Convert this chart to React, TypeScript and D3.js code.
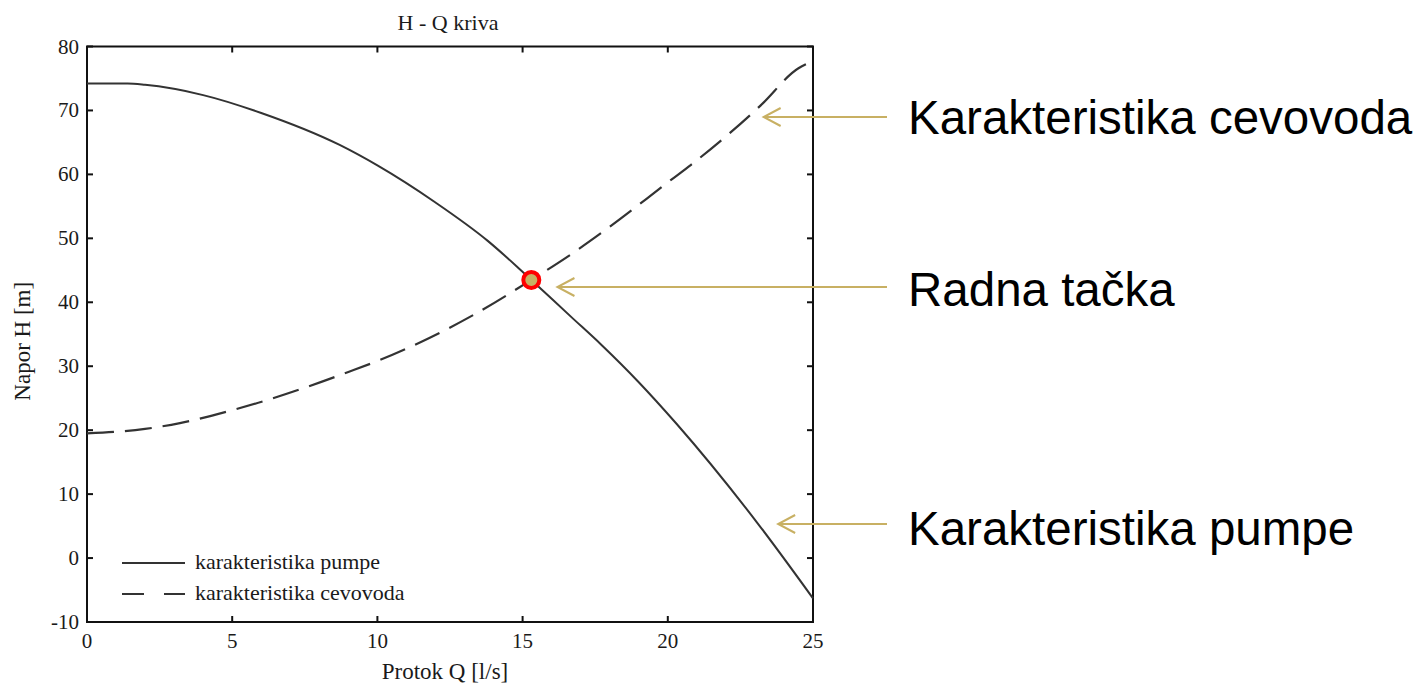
import React, { useEffect, useRef } from 'react';
import * as d3 from 'd3';

// Pump curve (Q in l/s, H in m)
const pumpQ = [0, 1.4, 2, 4, 6, 8.7, 10, 12, 13.8, 14.8, 15.3, 16.7, 17.7, 19, 20.3, 23.1, 25];
const pumpH = [74.2, 74.2, 74.0, 72.4, 69.6, 64.6, 61.4, 55.6, 49.6, 45.6, 43.5, 37.6, 33.4, 27.5, 21.0, 5.4, -6.3];

// Pipeline curve
const pipeQ = [0, 2, 3.2, 4.9, 6.2, 7.6, 9, 10.1, 11.5, 13.3, 15.3, 16.7, 18, 20.1, 20.8, 23.2, 24.5, 24.9];
const pipeH = [19.5, 20.2, 21.1, 23.0, 24.7, 26.8, 29.1, 31.0, 33.8, 38.0, 43.5, 47.6, 51.8, 59.1, 61.5, 70.8, 76.6, 77.5];

// Operating point
const workQ = 15.3;
const workH = 43.5;

const xTicks = [0, 5, 10, 15, 20, 25];
const yTicks = [-10, 0, 10, 20, 30, 40, 50, 60, 70, 80];

const legendLabels = ['karakteristika pumpe', 'karakteristika cevovoda'];

// Callout texts with the point on each curve the arrow points at
const calloutLabels = ['Karakteristika cevovoda', 'Radna tačka', 'Karakteristika pumpe'];
const calloutQ = [23.3, 16.2, 23.8];

const App = () => {
  const ref = useRef<SVGSVGElement | null>(null);

  useEffect(() => {
    const svg = d3.select(ref.current);
    svg.selectAll('*').remove();

    const left = 87, right = 813, top = 46.5, bottom = 622;
    const x = d3.scaleLinear().domain([0, 25]).range([left, right]);
    const y = d3.scaleLinear().domain([-10, 80]).range([bottom, top]);

    const serif = 'Liberation Serif, Times New Roman, serif';
    const ink = '#1a1a1a';
    const gold = '#c8b063';

    // frame
    svg.append('rect')
      .attr('x', left).attr('y', top)
      .attr('width', right - left).attr('height', bottom - top)
      .attr('fill', 'none').attr('stroke', '#111').attr('stroke-width', 2);

    // inward ticks on all four sides
    const tickLen = 6;
    xTicks.forEach(t => {
      svg.append('line').attr('x1', x(t)).attr('x2', x(t)).attr('y1', bottom).attr('y2', bottom - tickLen)
        .attr('stroke', '#111').attr('stroke-width', 2);
      svg.append('line').attr('x1', x(t)).attr('x2', x(t)).attr('y1', top).attr('y2', top + tickLen)
        .attr('stroke', '#111').attr('stroke-width', 2);
      svg.append('text').attr('x', x(t)).attr('y', bottom + 26)
        .attr('text-anchor', 'middle').attr('font-family', serif).attr('font-size', 21)
        .attr('fill', ink).text(t);
    });
    yTicks.forEach(t => {
      svg.append('line').attr('x1', left).attr('x2', left + tickLen).attr('y1', y(t)).attr('y2', y(t))
        .attr('stroke', '#111').attr('stroke-width', 2);
      svg.append('line').attr('x1', right).attr('x2', right - tickLen).attr('y1', y(t)).attr('y2', y(t))
        .attr('stroke', '#111').attr('stroke-width', 2);
      svg.append('text').attr('x', left - 8).attr('y', y(t) + 7)
        .attr('text-anchor', 'end').attr('font-family', serif).attr('font-size', 21)
        .attr('fill', ink).text(t);
    });

    // titles
    svg.append('text').attr('x', (left + right) / 2 - 2).attr('y', 30)
      .attr('text-anchor', 'middle').attr('font-family', serif).attr('font-size', 22)
      .attr('fill', ink).text('H - Q kriva');
    svg.append('text').attr('x', (left + right) / 2 - 5).attr('y', 679)
      .attr('text-anchor', 'middle').attr('font-family', serif).attr('font-size', 23)
      .attr('fill', ink).text('Protok Q [l/s]');
    svg.append('text').attr('transform', `translate(30,${(top + bottom) / 2 + 7}) rotate(-90)`)
      .attr('text-anchor', 'middle').attr('font-family', serif).attr('font-size', 23)
      .attr('fill', ink).text('Napor H [m]');

    // curves
    const line = d3.line<number>()
      .x(d => x(d[0]))
      .y(d => y(d[1]))
      .curve(d3.curveMonotoneX);

    const pump = pumpQ.map((q, i) => [q, pumpH[i]]);
    const pipe = pipeQ.map((q, i) => [q, pipeH[i]]);

    svg.append('path').datum(pump as any)
      .attr('fill', 'none').attr('stroke', '#333').attr('stroke-width', 2)
      .attr('d', line as any);
    svg.append('path').datum(pipe as any)
      .attr('fill', 'none').attr('stroke', '#333').attr('stroke-width', 2.2)
      .attr('stroke-dasharray', '27,11')
      .attr('d', line as any);

    // legend
    const legendY = [563, 594];
    legendLabels.forEach((lbl, i) => {
      svg.append('line').attr('x1', 122).attr('x2', 185).attr('y1', legendY[i]).attr('y2', legendY[i])
        .attr('stroke', '#333').attr('stroke-width', 2)
        .attr('stroke-dasharray', i === 1 ? '22,20' : null);
      svg.append('text').attr('x', 195).attr('y', legendY[i] + 6)
        .attr('font-family', serif).attr('font-size', 22).attr('fill', ink).text(lbl);
    });

    // operating point marker
    svg.append('circle').attr('cx', x(workQ)).attr('cy', y(workH)).attr('r', 8)
      .attr('fill', gold).attr('stroke', '#ff0000').attr('stroke-width', 4);

    // callouts
    const textY = [134, 306, 545];
    const lineY = [117, 287, 524];
    calloutLabels.forEach((lbl, i) => {
      const tip = x(calloutQ[i]);
      const ly = lineY[i];
      svg.append('line').attr('x1', 887).attr('x2', tip + 1).attr('y1', ly).attr('y2', ly)
        .attr('stroke', gold).attr('stroke-width', 2);
      svg.append('path')
        .attr('d', `M${tip + 17},${ly - 9} L${tip},${ly} L${tip + 17},${ly + 9}`)
        .attr('fill', 'none').attr('stroke', gold).attr('stroke-width', 2);
      svg.append('text').attr('x', 908).attr('y', textY[i])
        .attr('font-family', 'Liberation Sans, Arial, sans-serif').attr('font-size', 47.5)
        .attr('fill', '#000').text(lbl);
    });
  }, []);

  return (
    <div style={{ position: 'absolute', left: 0, top: 0, background: '#fff' }}>
      <svg ref={ref} width={1420} height={689} />
    </div>
  );
};

export default App;
